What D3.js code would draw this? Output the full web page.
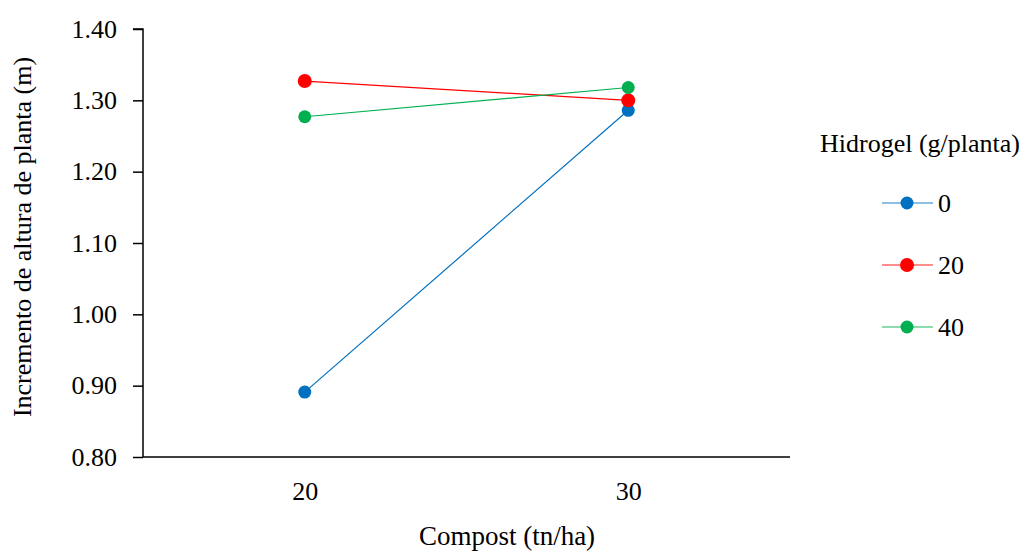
<!DOCTYPE html>
<html>
<head>
<meta charset="utf-8">
<script src="https://cdn.jsdelivr.net/npm/d3@7"></script>
<style>
  body { margin: 0; background: #fff; }
  svg text { font-family: "Liberation Serif", "Times New Roman", "DejaVu Serif", serif !important; fill: #000; }
</style>
</head>
<body>
<svg id="chart" width="1027" height="557"></svg>
<script>
const categories = ["20", "30"];
const seriesNames = ["0", "20", "40"];
const seriesColors = ["#0070C0", "#FF0000", "#00B050"];
const seriesRadius = [6.5, 7, 6.5];
const values0 = [0.891, 1.286];
const values20 = [1.327, 1.300];
const values40 = [1.277, 1.318];
const yTicks = [0.80, 0.90, 1.00, 1.10, 1.20, 1.30, 1.40];

const series = [values0, values20, values40].map((v, i) => ({
  name: seriesNames[i], color: seriesColors[i], r: seriesRadius[i], values: v
}));

const svg = d3.select("#chart");
const mLeft = 143, mRight = 790, mTop = 29, mBottom = 457;
const fs = 26;
const serif = "'Liberation Serif', 'Times New Roman', serif";

const x = d3.scalePoint().domain(categories).range([mLeft, mRight]).padding(0.5);
const y = d3.scaleLinear().domain([0.8, 1.4]).range([mBottom, mTop]);

// Y axis
const yAxis = svg.append("g").attr("transform", `translate(${mLeft},0)`)
  .call(d3.axisLeft(y).tickValues(yTicks).tickFormat(d3.format(".2f")).tickSize(10).tickPadding(16));
yAxis.attr("font-family", serif);
yAxis.select(".domain").attr("stroke", "#000").attr("stroke-width", 1.5).attr("d", `M-10,${mTop}H0V${mBottom}`);
yAxis.selectAll(".tick line").attr("stroke", "#000").attr("stroke-width", 1.5);
yAxis.selectAll(".tick text").attr("font-size", fs).style("font-family", serif).attr("fill", "#000");

// X axis
const xAxis = svg.append("g").attr("transform", `translate(0,${mBottom})`)
  .call(d3.axisBottom(x).tickSize(0).tickPadding(25));
xAxis.attr("font-family", serif);
xAxis.select(".domain").attr("stroke", "#000").attr("stroke-width", 1.5).attr("d", `M${mLeft},0H${mRight}`);
xAxis.selectAll(".tick text").attr("font-size", fs).style("font-family", serif).attr("fill", "#000");

// Lines and markers
const line = d3.line().x((d, i) => x(categories[i])).y(d => y(d));
series.forEach(s => {
  svg.append("path").datum(s.values).attr("d", line)
    .attr("fill", "none").attr("stroke", s.color).attr("stroke-width", 1.2);
});
series.forEach(s => {
  svg.selectAll(null).data(s.values).enter().append("circle")
    .attr("cx", (d, i) => x(categories[i])).attr("cy", d => y(d))
    .attr("r", s.r).attr("fill", s.color);
});

// Axis titles
svg.append("text").attr("x", 507).attr("y", 545).attr("text-anchor", "middle")
  .attr("font-size", 27).style("font-family", serif).text("Compost (tn/ha)");
svg.append("text").attr("transform", "translate(31,237) rotate(-90)").attr("text-anchor", "middle")
  .attr("font-size", fs).style("font-family", serif).text("Incremento de altura de planta (m)");

// Legend
svg.append("text").attr("x", 820).attr("y", 152).attr("font-size", fs).style("font-family", serif).text("Hidrogel (g/planta)");
const legendY = [203, 265, 327];
series.forEach((s, i) => {
  const g = svg.append("g").attr("transform", `translate(0,${legendY[i]})`);
  g.append("line").attr("x1", 882).attr("x2", 933).attr("y1", 0).attr("y2", 0)
    .attr("stroke", s.color).attr("stroke-width", 1.5).attr("stroke-opacity", 0.6);
  g.append("circle").attr("cx", 907).attr("cy", 0).attr("r", s.r).attr("fill", s.color);
  g.append("text").attr("x", 938).attr("y", 0).attr("dy", "0.35em").attr("font-size", fs)
    .style("font-family", serif).text(s.name);
});
</script>
</body>
</html>
